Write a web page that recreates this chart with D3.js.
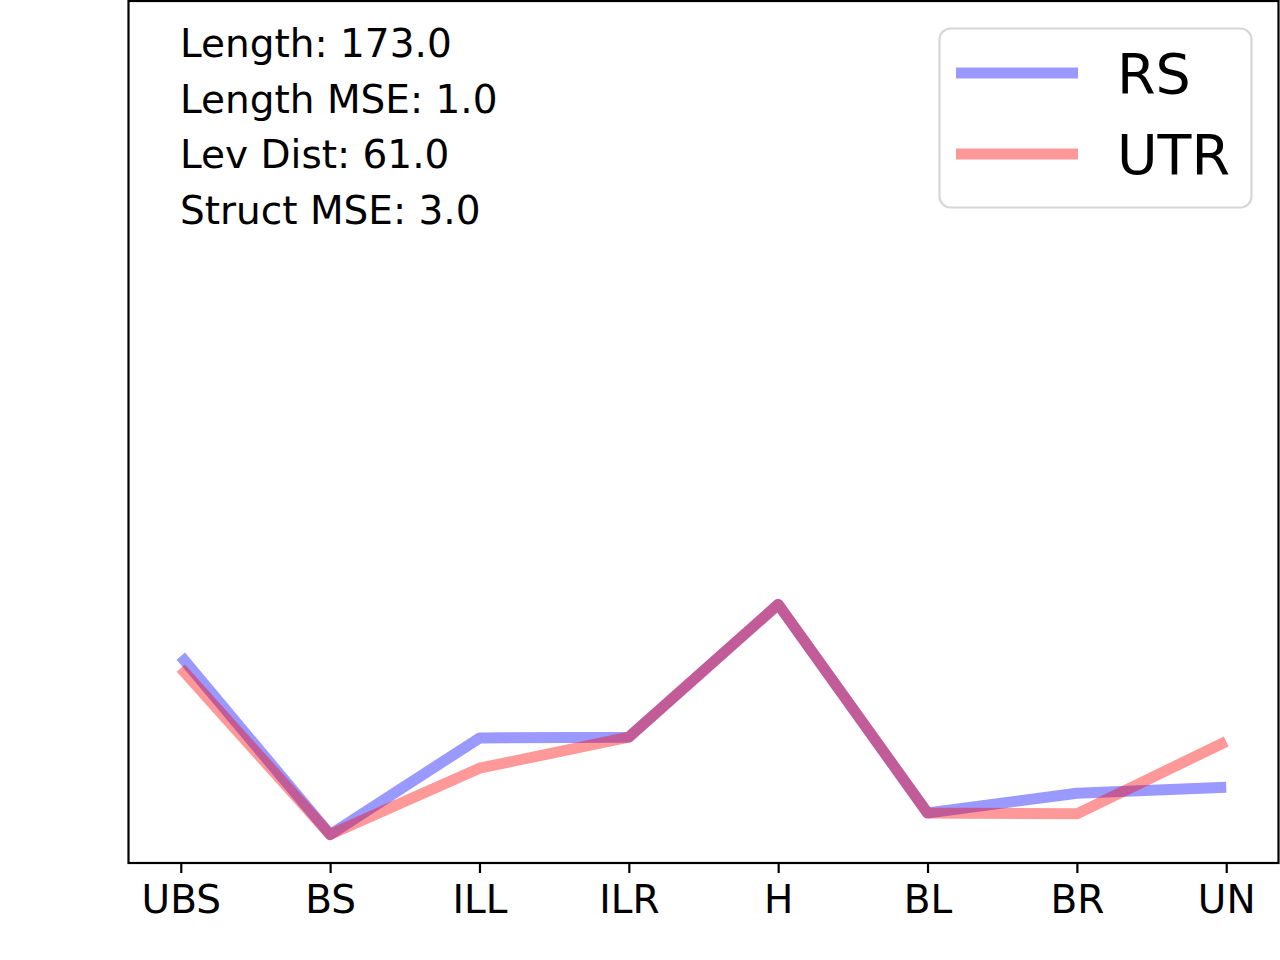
<!DOCTYPE html>
<html>
<head>
<meta charset="utf-8">
<script src="https://cdn.jsdelivr.net/npm/d3@7"></script>
<style>
  html, body { margin: 0; padding: 0; background: #fff; }
  svg { display: block; font-family: "DejaVu Sans", sans-serif; }
</style>
</head>
<body>
<svg id="chart" width="1280" height="960"></svg>
<script>
// categories along x
const categories = ["UBS", "BS", "ILL", "ILR", "H", "BL", "BR", "UN"];
// series values (no y ticks shown, read as relative heights)
const rsValues = [24.0, 3.3, 14.5, 14.6, 30.0, 5.8, 8.1, 8.8];
const utrValues = [22.6, 3.3, 11.0, 14.6, 30.0, 5.8, 5.7, 14.1];
const seriesNames = ["RS", "UTR"];
const seriesColors = ["blue", "red"];
// stats annotation
const statLines = ["Length: 173.0", "Length MSE: 1.0", "Lev Dist: 61.0", "Struct MSE: 3.0"];

const svg = d3.select("#chart");
const plotLeft = 128.5, plotRight = 1278.5, plotTop = 1, plotBottom = 863;

const x = d3.scalePoint().domain(categories).range([plotLeft, plotRight]).padding(0.35);
const y = d3.scaleLinear().domain([0, 100]).range([plotBottom, plotTop]);

// lines
const line = d3.line()
    .x((d, i) => x(categories[i]))
    .y(d => y(d));

[rsValues, utrValues].forEach((vals, k) => {
    svg.append("path")
        .datum(vals)
        .attr("d", line)
        .attr("fill", "none")
        .attr("stroke", seriesColors[k])
        .attr("stroke-opacity", 0.4)
        .attr("stroke-width", 11)
        .attr("stroke-linejoin", "round");
});

// x axis
const xAxis = svg.append("g")
    .attr("transform", `translate(0,${plotBottom})`)
    .call(d3.axisBottom(x).tickSize(10).tickPadding(12));
xAxis.select(".domain").remove();
xAxis.selectAll(".tick line").attr("stroke", "#000").attr("stroke-width", 2.2);
xAxis.selectAll(".tick text")
    .attr("font-size", 39)
    .attr("font-family", "DejaVu Sans")
    .attr("fill", "#000");

// frame
svg.append("rect")
    .attr("x", plotLeft).attr("y", plotTop)
    .attr("width", plotRight - plotLeft).attr("height", plotBottom - plotTop)
    .attr("fill", "none")
    .attr("stroke", "#000")
    .attr("stroke-width", 2.2);

// stats text
svg.append("g").selectAll("text")
    .data(statLines)
    .join("text")
    .attr("x", 180)
    .attr("y", (d, i) => 57 + i * 55.5)
    .attr("font-size", 39)
    .attr("fill", "#000")
    .text(d => d);

// legend
const legend = svg.append("g");
legend.append("rect")
    .attr("x", 939.5).attr("y", 28.5)
    .attr("width", 312).attr("height", 179)
    .attr("rx", 11).attr("ry", 11)
    .attr("fill", "#fff")
    .attr("fill-opacity", 0.8)
    .attr("stroke", "#d6d6d6")
    .attr("stroke-width", 2.2);

seriesNames.forEach((name, k) => {
    const cy = 73 + k * 81;
    legend.append("line")
        .attr("x1", 956).attr("x2", 1078)
        .attr("y1", cy).attr("y2", cy)
        .attr("stroke", seriesColors[k])
        .attr("stroke-opacity", 0.4)
        .attr("stroke-width", 11);
    legend.append("text")
        .attr("x", 1117)
        .attr("y", cy + 20)
        .attr("font-size", 55.5)
        .attr("fill", "#000")
        .text(name);
});
</script>
</body>
</html>
